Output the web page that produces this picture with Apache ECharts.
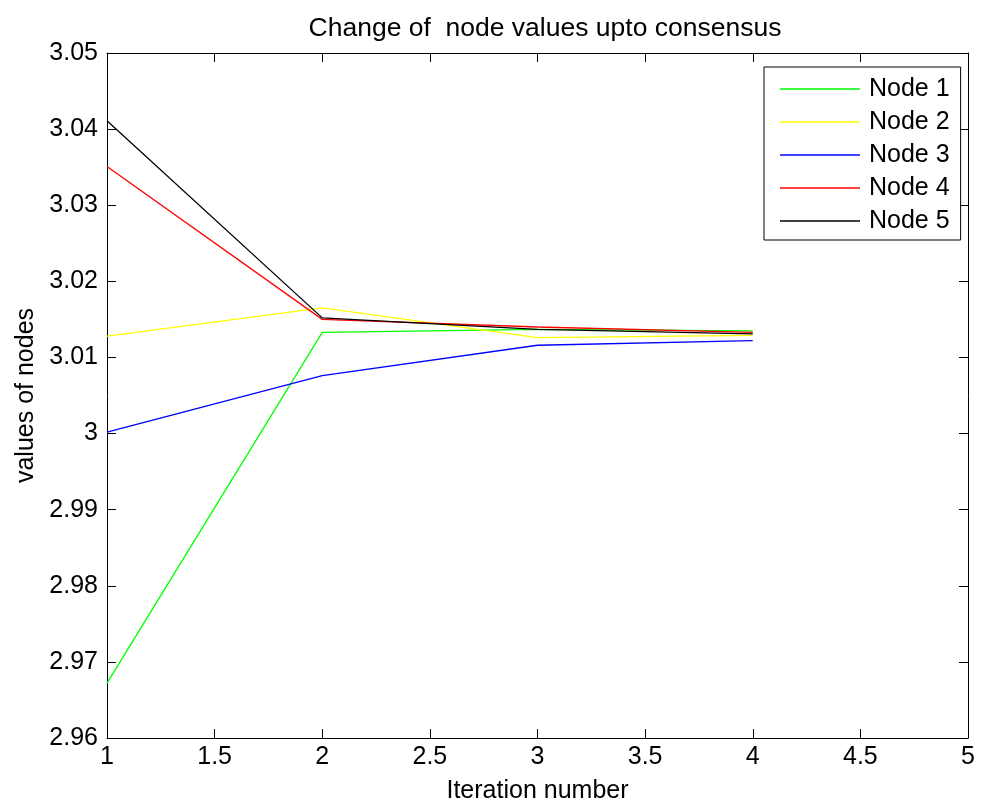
<!DOCTYPE html>
<html>
<head>
<meta charset="utf-8">
<script src="https://cdn.jsdelivr.net/npm/echarts@6/dist/echarts.min.js"></script>
<style>
  html, body { margin: 0; padding: 0; background: #fff; }
  #chart { width: 982px; height: 804px; }
</style>
</head>
<body>
<div id="chart"></div>
<script>
// Iteration numbers and node values
const iterations = [1, 2, 3, 4];
const node1 = [2.9672, 3.0133, 3.0137, 3.0135];
const node2 = [3.0128, 3.0165, 3.0126, 3.0129];
const node3 = [3.0002, 3.0076, 3.0116, 3.0122];
const node4 = [3.0351, 3.0150, 3.0140, 3.0133];
const node5 = [3.0411, 3.0152, 3.0137, 3.0131];

const seriesNames = ['Node 1', 'Node 2', 'Node 3', 'Node 4', 'Node 5'];
const seriesValues = [node1, node2, node3, node4, node5];
const seriesColors = ['#00ff00', '#ffff00', '#0000ff', '#ff0000', '#000000'];

const FONT = 'Liberation Sans, Arial, sans-serif';
const FS = 25;

const chart = echarts.init(document.getElementById('chart'), null, { renderer: 'canvas' });

const fmtTick = v => String(parseFloat(Number(v).toFixed(3)));

const axisCommon = {
  axisLine: { show: true, onZero: false, lineStyle: { color: '#000', width: 1 } },
  axisTick: { show: true, inside: true, length: 9, lineStyle: { color: '#000', width: 1 } },
  splitLine: { show: false }
};

chart.setOption({
  animation: false,
  backgroundColor: '#fff',
  title: {
    text: 'Change of  node values upto consensus',
    left: 540, top: 10, textAlign: 'center',
    textStyle: { fontFamily: FONT, fontSize: 26.5, fontWeight: 'normal', color: '#000' }
  },
  grid: { left: 107, right: 14, top: 53, bottom: 66, containLabel: false, outerBoundsMode: 'none' },
  legend: {
    orient: 'vertical',
    left: 764, top: 67,
    padding: [9.5, 11, 6.5, 16],
    itemGap: 8,
    itemWidth: 80,
    itemHeight: 1.4,
    icon: 'rect',
    borderColor: '#000', borderWidth: 1,
    backgroundColor: '#fff',
    data: seriesNames,
    textStyle: { fontFamily: FONT, fontSize: FS, lineHeight: 25, color: '#000', padding: [0, 0, 0, 4] }
  },
  xAxis: [
    Object.assign({
      type: 'value', min: 1, max: 5, interval: 0.5, position: 'bottom',
      name: 'Iteration number', nameLocation: 'middle', nameGap: 41,
      nameTextStyle: { fontFamily: FONT, fontSize: FS, color: '#000' },
      axisLabel: { fontFamily: FONT, fontSize: FS, color: '#000', margin: 7, formatter: fmtTick }
    }, axisCommon),
    Object.assign({
      type: 'value', min: 1, max: 5, interval: 0.5, position: 'top',
      axisLabel: { show: false }
    }, axisCommon)
  ],
  yAxis: [
    Object.assign({
      type: 'value', min: 2.96, max: 3.05, interval: 0.01, position: 'left',
      name: 'values of nodes', nameLocation: 'middle', nameGap: 67, nameRotate: 90,
      nameTextStyle: { fontFamily: FONT, fontSize: FS, color: '#000' },
      axisLabel: { fontFamily: FONT, fontSize: FS, color: '#000', margin: 9, formatter: fmtTick }
    }, axisCommon),
    Object.assign({
      type: 'value', min: 2.96, max: 3.05, interval: 0.01, position: 'right',
      axisLabel: { show: false }
    }, axisCommon)
  ],
  series: seriesNames.map((name, i) => ({
    name: name,
    type: 'line',
    xAxisIndex: 0,
    yAxisIndex: 0,
    symbol: 'none',
    data: iterations.map((x, j) => [x, seriesValues[i][j]]),
    lineStyle: { color: seriesColors[i], width: 1.3 },
    itemStyle: { color: seriesColors[i] }
  }))
});
</script>
</body>
</html>
